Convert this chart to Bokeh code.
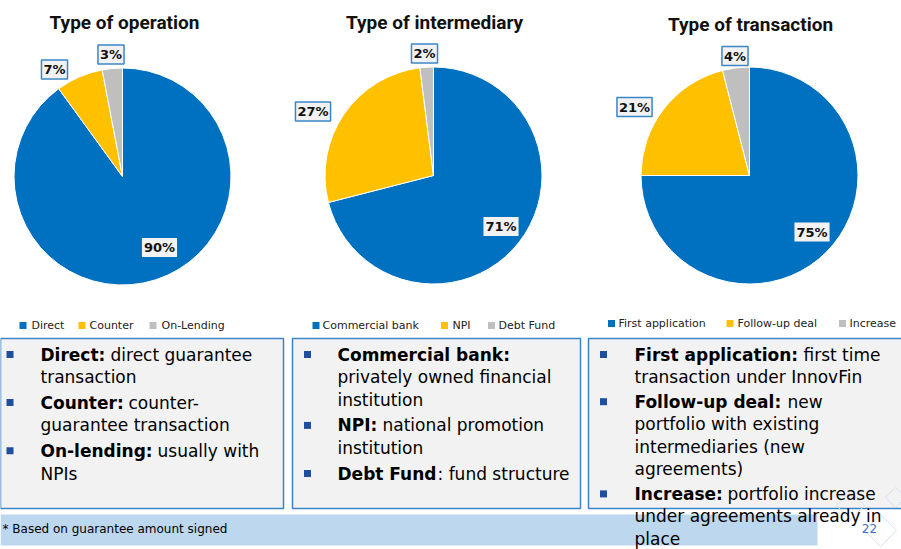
import math
from bokeh.plotting import figure
from bokeh.models import Range1d, ColumnDataSource
from bokeh.core.properties import value
from bokeh.embed import file_html
from bokeh.resources import INLINE

W, H = 901, 549

# ---------------- data ----------------
titles = ["Type of operation", "Type of intermediary", "Type of transaction"]
op_cats = ["Direct", "Counter", "On-Lending"]
op_vals = [90, 7, 3]
int_cats = ["Commercial bank", "NPI", "Debt Fund"]
int_vals = [71, 27, 2]
tr_cats = ["First application", "Follow-up deal", "Increase"]
tr_vals = [75, 21, 4]
colors = ["#0070c0", "#ffc000", "#bfbfbf"]

box1_lines = [("Direct:", "direct guarantee", True), ("", "transaction", False),
              ("Counter:", "counter-", True), ("", "guarantee transaction", False),
              ("On-lending:", "usually with", True), ("", "NPIs", False)]
box2_lines = [("Commercial bank:", "", True), ("", "privately owned financial", False),
              ("", "institution", False),
              ("NPI:", "national promotion", True), ("", "institution", False),
              ("Debt Fund", ": fund structure", True)]
box3_lines = [("First application:", "first time", True), ("", "transaction under InnovFin", False),
              ("Follow-up deal:", "new", True), ("", "portfolio with existing", False),
              ("", "intermediaries (new", False), ("", "agreements)", False),
              ("Increase:", "portfolio increase", True), ("", "under agreements already in", False),
              ("", "place", False)]
footnote = "* Based on guarantee amount signed"
page_no = "22"

# ---------------- layout (pixel positions, y from top) ----------------
pie_centers = [(122, 176), (433, 175), (749, 175)]
pie_radius = 108.5
title_pos = [(124, 22), (434, 22), (750, 24)]
label_pos = [[(159, 247), (54, 69), (110.5, 54)],
             [(500.5, 226), (312.5, 111), (424, 53)],
             [(811.5, 231.5), (634, 106.5), (734.5, 55.5)]]
legend_sq_x = [[22.5, 81.5, 152.5], [315.5, 444, 491], [611, 729.5, 842]]
legend_tx_x = [[31, 89, 161], [322, 452, 498], [618, 737, 849]]
legend_y = [325, 325, 323]
boxes = [(0, 283), (292, 580), (588, 910)]
box_top, box_bottom = 338, 508
bullet_x = [9.5, 307, 603]
bold_x = [40, 337, 634]
normal_x = [[110, None, 128, None, 157, None],
            [None, None, None, 382, None, 437],
            [803, None, 787, None, None, None, 727, None, None]]
line_step = [22.8, 22.8, 22.5]
bullet_gap = [2.5, 2.5, 2.2]


def Y(py):
    return H - py


p = figure(width=W, height=H, x_range=Range1d(0, W), y_range=Range1d(0, H),
           output_backend="svg", toolbar_location=None, min_border=0)
p.axis.visible = False
p.grid.visible = False
p.outline_line_color = None
p.background_fill_color = "white"

# footer band
p.quad(left=[0], right=[817], top=[Y(514)], bottom=[Y(545)],
       fill_color="#bdd7ee", line_color=None)

# text boxes
p.quad(left=[b[0] for b in boxes], right=[b[1] for b in boxes],
       top=[Y(box_top)] * 3, bottom=[Y(box_bottom)] * 3,
       fill_color="#f2f2f2", line_color="#3b86c8", line_width=1.5)

# decorative diamonds bottom right
for cx, cy, s in [(850, 505, 14), (880, 530, 16), (895, 497, 10)]:
    p.patch([cx - s, cx, cx + s, cx], [Y(cy), Y(cy - s), Y(cy), Y(cy + s)],
            fill_color=None, line_color="#d6e2f0", line_width=1)

all_cats = [op_cats, int_cats, tr_cats]
all_vals = [op_vals, int_vals, tr_vals]

for k in range(3):
    cats, vals = all_cats[k], all_vals[k]
    total = float(sum(vals))
    starts, ends = [], []
    cum = 0.0
    for v in vals:
        s = math.pi / 2 - 2 * math.pi * (cum + v) / total
        e = math.pi / 2 - 2 * math.pi * cum / total
        starts.append(s)
        ends.append(e)
        cum += v
    cx, cy = pie_centers[k]
    src = ColumnDataSource(dict(x=[cx] * 3, y=[Y(cy)] * 3, start=starts, end=ends,
                                color=colors, cat=cats))
    p.wedge(x="x", y="y", radius=pie_radius, start_angle="start", end_angle="end",
            fill_color="color", line_color="white", line_width=1, source=src)

    # title
    p.text(x=[title_pos[k][0]], y=[Y(title_pos[k][1])], text=[titles[k]],
           text_font=value("Roboto"), text_font_style="bold", text_font_size="19px",
           text_color="#111111", text_align="center", text_baseline="middle")

    # percent labels
    lx = [pt[0] for pt in label_pos[k]]
    ly = [Y(pt[1]) for pt in label_pos[k]]
    labels = [f"{v}%" for v in vals]
    p.text(x=lx[:1], y=ly[:1], text=labels[:1], text_font=value("DejaVu Sans"),
           text_font_style="bold", text_font_size="13px", text_color="#111111",
           text_align="center", text_baseline="middle",
           background_fill_color="#f2f2f2", padding=2)
    p.text(x=lx[1:], y=ly[1:], text=labels[1:], text_font=value("DejaVu Sans"),
           text_font_style="bold", text_font_size="13px", text_color="#111111",
           text_align="center", text_baseline="middle",
           background_fill_color="#f2f2f2", border_line_color="#3b86c8",
           border_line_width=1.5, padding=2)

    # legend
    p.rect(x=legend_sq_x[k], y=[Y(legend_y[k])] * 3, width=7, height=7,
           fill_color=colors, line_color=None)
    p.text(x=legend_tx_x[k], y=[Y(legend_y[k])] * 3, text=cats,
           text_font=value("DejaVu Sans"), text_font_size="11px", text_color="#222222",
           text_align="left", text_baseline="middle")

# bullet text
for k, lines in enumerate([box1_lines, box2_lines, box3_lines]):
    yy = []
    nb = -1
    for i, (b, n, bullet) in enumerate(lines):
        if bullet:
            nb += 1
        yy.append(354 + line_step[k] * i + bullet_gap[k] * nb)
    bx, by, bt, nx, ny, nt, sx, sy = [], [], [], [], [], [], [], []
    for i, (b, n, bullet) in enumerate(lines):
        if bullet:
            sx.append(bullet_x[k])
            sy.append(Y(yy[i]))
        if b:
            bx.append(bold_x[k]); by.append(Y(yy[i])); bt.append(b)
            if n:
                nx.append(normal_x[k][i]); ny.append(Y(yy[i])); nt.append(n)
        else:
            nx.append(bold_x[k]); ny.append(Y(yy[i])); nt.append(n)
    p.rect(x=sx, y=sy, width=7, height=7, fill_color="#1f4e9e", line_color=None)
    p.text(x=bx, y=by, text=bt, text_font=value("DejaVu Sans"), text_font_style="bold",
           text_font_size="17px", text_color="#000000", text_align="left",
           text_baseline="middle")
    p.text(x=nx, y=ny, text=nt, text_font=value("DejaVu Sans"), text_font_size="17px",
           text_color="#000000", text_align="left", text_baseline="middle")

# footnote & page number
p.text(x=[2], y=[Y(528)], text=[footnote], text_font=value("DejaVu Sans"),
       text_font_size="12px", text_color="#000000", text_align="left",
       text_baseline="middle")
p.text(x=[869], y=[Y(528)], text=[page_no], text_font=value("DejaVu Sans"),
       text_font_size="12px", text_color="#4472c4", text_align="center",
       text_baseline="middle")

open("out.html", "w").write(file_html(p, INLINE))
